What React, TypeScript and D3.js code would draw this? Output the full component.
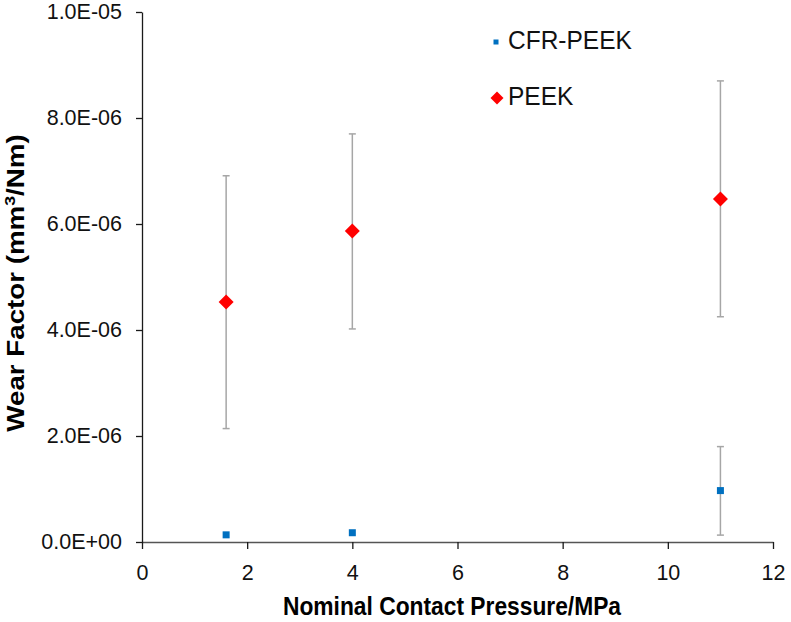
import { useEffect, useRef } from "react";
import * as d3 from "d3";

// ── data ──────────────────────────────────────────────────────────────────────
const pressures = [1.6, 4, 11];

const peekMean  = [4.53e-6, 5.87e-6, 6.47e-6];
const peekHigh  = [6.91e-6, 7.70e-6, 8.70e-6];
const peekLow   = [2.14e-6, 4.02e-6, 4.25e-6];

const cfrMean   = [1.35e-7, 1.75e-7, 0.97e-6];
const cfrHigh   = [1.7e-7, 2.1e-7, 1.80e-6];
const cfrLow    = [1.0e-7, 1.4e-7, 0.13e-6];

const xTicks = [0, 2, 4, 6, 8, 10, 12];
const yTicks = [0, 2e-6, 4e-6, 6e-6, 8e-6, 1e-5];
const yTickLabels = ["0.0E+00", "2.0E-06", "4.0E-06", "6.0E-06", "8.0E-06", "1.0E-05"];

const legendItems = ["CFR-PEEK", "PEEK"];

const W = 791;
const H = 622;
const X0 = 142, X1 = 773;
const Y0 = 542, Y1 = 12;
const FONT = "'Liberation Sans', Arial, sans-serif";

export default function App() {
  const svgRef = useRef<SVGSVGElement>(null);

  useEffect(() => {
    const svg = d3.select(svgRef.current);
    svg.selectAll("*").remove();

    const x = d3.scaleLinear().domain([0, 12]).range([X0, X1]);
    const y = d3.scaleLinear().domain([0, 1e-5]).range([Y0, Y1]);

    // ── axes ──────────────────────────────────────────────────────────────────
    const ax = svg.append("g")
      .attr("transform", `translate(0,${Y0})`)
      .call(d3.axisBottom(x).tickValues(xTicks).tickSize(7).tickPadding(6).tickSizeOuter(0)
        .tickFormat(d => String(d)));
    const ay = svg.append("g")
      .attr("transform", `translate(${X0},0)`)
      .call(d3.axisLeft(y).tickValues(yTicks).tickSize(6).tickPadding(14).tickSizeOuter(0)
        .tickFormat((_, i) => yTickLabels[i]));

    for (const a of [ax, ay]) {
      a.selectAll("path, line").attr("stroke", "#1a1a1a").attr("stroke-width", 1.3);
      a.selectAll("text")
        .attr("fill", "#111").attr("font-size", 21.5)
        .attr("font-family", FONT);
    }
    ax.selectAll(".tick text").attr("dy", "1.15em");
    ax.select(".domain").attr("stroke", "#555");

    // ── titles ────────────────────────────────────────────────────────────────
    svg.append("text")
      .attr("transform", "translate(452,615) scale(1,1.1)")
      .attr("text-anchor", "middle")
      .attr("font-family", FONT).attr("font-weight", 700).attr("font-size", 22.8)
      .attr("fill", "#000")
      .text("Nominal Contact Pressure/MPa");

    const yt = svg.append("text")
      .attr("transform", `translate(24,${(Y0 + Y1) / 2 + 6}) rotate(-90) scale(1.18,1)`)
      .attr("text-anchor", "middle")
      .attr("font-family", FONT).attr("font-weight", 700).attr("font-size", 23.5)
      .attr("fill", "#000");
    yt.append("tspan").text("Wear Factor (mm");
    yt.append("tspan").attr("dy", -9).attr("font-size", 15).text("3");
    yt.append("tspan").attr("dy", 9).text("/Nm)");

    // ── error bars ────────────────────────────────────────────────────────────
    const bars = svg.append("g").attr("stroke", "#a6a6a6").attr("stroke-width", 1.5);
    const drawErr = (lo: number[], hi: number[]) => {
      pressures.forEach((p, i) => {
        const cx = x(p);
        bars.append("line").attr("x1", cx).attr("x2", cx).attr("y1", y(lo[i])).attr("y2", y(hi[i]));
        if (y(lo[i]) - y(hi[i]) > 12) {
          for (const v of [lo[i], hi[i]]) {
            bars.append("line").attr("x1", cx - 3.5).attr("x2", cx + 3.5).attr("y1", y(v)).attr("y2", y(v));
          }
        }
      });
    };
    drawErr(peekLow, peekHigh);
    drawErr(cfrLow, cfrHigh);

    // ── markers ───────────────────────────────────────────────────────────────
    const diamond = (cx: number, cy: number, r: number) =>
      `M${cx},${cy - r}L${cx + r},${cy}L${cx},${cy + r}L${cx - r},${cy}Z`;

    svg.append("g").selectAll("path")
      .data(pressures)
      .join("path")
      .attr("d", (p, i) => diamond(x(p), y(peekMean[i]), 7.5))
      .attr("fill", "#ff0000");

    svg.append("g").selectAll("rect")
      .data(pressures)
      .join("rect")
      .attr("x", p => x(p) - 3.5)
      .attr("y", (_, i) => y(cfrMean[i]) - 3.5)
      .attr("width", 7).attr("height", 7)
      .attr("fill", "#0070c0");

    // ── legend ────────────────────────────────────────────────────────────────
    const lg = svg.append("g");
    lg.append("rect").attr("x", 493.5).attr("y", 39.5).attr("width", 5).attr("height", 5).attr("fill", "#0070c0");
    lg.append("path").attr("d", diamond(497, 98, 6.5)).attr("fill", "#ff0000");
    legendItems.forEach((t, i) => {
      lg.append("text")
        .attr("transform", `translate(508,${49 + i * 56}) scale(1,1.05)`)
        .attr("font-family", FONT).attr("font-size", 24.5).attr("fill", "#111")
        .text(t);
    });
  }, []);

  return (
    <svg
      ref={svgRef}
      width={W}
      height={H}
      style={{ position: "absolute", left: 0, top: 0, background: "#fff" }}
    />
  );
}
